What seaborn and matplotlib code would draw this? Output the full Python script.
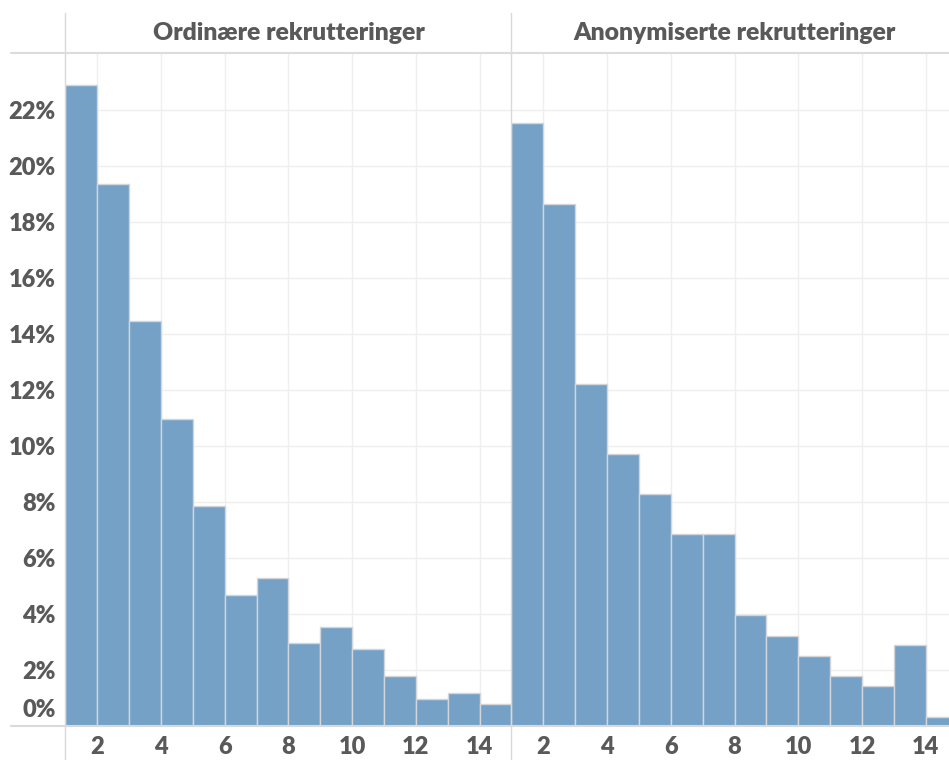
import numpy as np
import pandas as pd
import matplotlib
matplotlib.use("Agg")
import matplotlib.pyplot as plt
import matplotlib.transforms as mtransforms
from matplotlib.lines import Line2D
import seaborn as sns

# data (share of recruitments per bin, in %)
panel_titles = ["Ordinære rekrutteringer", "Anonymiserte rekrutteringer"]
bin_start = np.arange(1, 15)
ordinary_pct = [22.89, 19.36, 14.46, 10.95, 7.85, 4.68, 5.27, 2.95, 3.54, 2.74, 1.77, 0.96, 1.17, 0.80]
anonymous_pct = [21.55, 18.65, 12.22, 9.70, 8.27, 6.84, 6.84, 3.95, 3.23, 2.49, 1.80, 1.42, 2.88, 0.33]
y_ticks = np.arange(0, 23, 2)
x_ticks = np.arange(2, 15, 2)

sns.set_theme(style="white")
plt.rcParams['font.family'] = ['Lato', 'DejaVu Sans']

bar_col = "#75a1c7"
txt_col = "#595959"
grid_col = "#efefef"
line_col = "#d9d9d9"
wt = "heavy"

W, H = 949, 760
fig = plt.figure(figsize=(W / 100, H / 100), dpi=100)

def px(x0, y0, x1, y1):
    # pixel box (top-left origin) -> figure fraction rect
    return [x0 / W, 1 - y1 / H, (x1 - x0) / W, (y1 - y0) / H]

panel_x = [(65.3, 511.5), (511.5, 957.7)]
top, base = 53, 726
ymax = (base - top) / 28.0

for i, (vals, title) in enumerate(zip([ordinary_pct, anonymous_pct], panel_titles)):
    x0, x1 = panel_x[i]
    ax = fig.add_axes(px(x0, top, x1, base))
    df = pd.DataFrame({"bin": bin_start, "pct": vals})
    sns.histplot(data=df, x="bin", weights="pct", binwidth=1, binrange=(1, 15), ax=ax, color=bar_col,
                 edgecolor="#d2d6da", linewidth=1.0, alpha=1.0, zorder=3)
    ax.set_xlim(1, 15)
    ax.set_ylim(0, ymax)
    ax.set_xticks(x_ticks)
    ax.set_xticklabels([str(t) for t in x_ticks], fontsize=17, fontweight=wt, color=txt_col)
    ax.set_yticks(y_ticks)
    ax.grid(True, color=grid_col, linewidth=1.0, zorder=0)
    ax.set_axisbelow(True)
    ax.tick_params(axis="x", length=0, pad=7)
    ax.tick_params(axis="y", length=0, pad=7)
    if i == 0:
        ax.set_yticklabels([f"{t}%" for t in y_ticks], fontsize=17, fontweight=wt, color=txt_col)
        lbl0 = ax.get_yticklabels()[0]
        lbl0.set_transform(lbl0.get_transform() + mtransforms.ScaledTranslation(0, 18 / 100, fig.dpi_scale_trans))
    else:
        ax.set_yticklabels([])
    ax.set_xlabel("")
    ax.set_ylabel("")
    for s in ax.spines.values():
        s.set_visible(False)
    ax.text(0.5, (H - 33) / H, title, transform=mtransforms.blended_transform_factory(ax.transAxes, fig.transFigure),
            ha="center", va="center", fontsize=17.8, fontweight=wt, color=txt_col)

# frame lines like the header / row dividers
for xp in [65.3, 511.5]:
    fig.add_artist(Line2D([xp / W, xp / W], [0, 1 - 13 / H], color=line_col, lw=1.0))
fig.add_artist(Line2D([11 / W, 1], [1 - top / H, 1 - top / H], color="#dcdcdc", lw=1.5))
fig.add_artist(Line2D([11 / W, 1], [1 - base / H, 1 - base / H], color=line_col, lw=1.5, zorder=5))

fig.savefig("out.png", dpi=100, facecolor="white")
